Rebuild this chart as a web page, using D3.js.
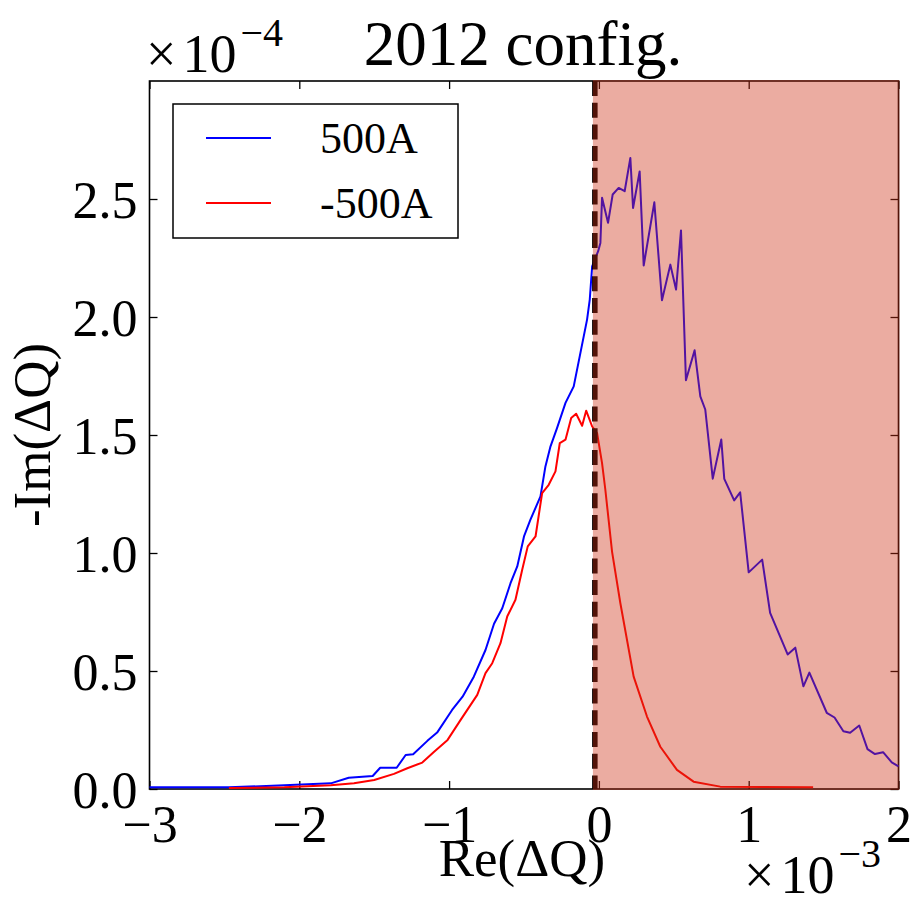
<!DOCTYPE html>
<html>
<head>
  <title>2012 config.</title>
  <script src="https://d3js.org/d3.v7.min.js"></script>
  <style>
    body { margin: 0; background: #fff; }
    text { font-family: "Liberation Serif", "DejaVu Serif", serif; fill: #000; }
    .axis path { display: none; }
    .axis line { stroke: #000; stroke-width: 1.3; }
  </style>
</head>
<body>
  <svg id="chart" width="910" height="899"></svg>

  <script>
    // series names and values (Re in 1e-3, -Im in 1e-4)
    const seriesNames = ["500A", "-500A"];
    const seriesColors = ["#0000ff", "#ff0000"];

    const blueRe = [-3.0, -2.47, -2.10, -1.79, -1.67, -1.51, -1.46, -1.35, -1.29, -1.24, -1.145, -1.08, -0.98, -0.91,
      -0.835, -0.757, -0.70, -0.645, -0.59, -0.545, -0.50, -0.457, -0.39, -0.357, -0.323, -0.279, -0.223, -0.168,
      -0.079, -0.061, -0.045, -0.005, 0.01, 0.021, 0.061, 0.092, 0.132, 0.172, 0.21, 0.228, 0.272, 0.299, 0.37,
      0.421, 0.477, 0.515, 0.548, 0.581, 0.639, 0.677, 0.71, 0.76, 0.817, 0.837, 0.903, 0.943, 1.0, 1.09, 1.143,
      1.26, 1.311, 1.365, 1.405, 1.521, 1.573, 1.632, 1.677, 1.738, 1.793, 1.843, 1.897, 1.955, 2.0];
    const blueIm = [0.007, 0.007, 0.016, 0.024, 0.048, 0.055, 0.090, 0.090, 0.144, 0.147, 0.204, 0.239, 0.335, 0.391,
      0.476, 0.589, 0.700, 0.766, 0.872, 0.943, 1.07, 1.141, 1.24, 1.367, 1.452, 1.530, 1.636, 1.706,
      1.989, 2.074, 2.215, 2.279, 2.314, 2.505, 2.399, 2.519, 2.547, 2.533, 2.674, 2.462, 2.617, 2.218, 2.486,
      2.071, 2.222, 2.116, 2.367, 1.732, 1.859, 1.664, 1.608, 1.315, 1.481, 1.314, 1.223, 1.257, 0.918, 0.972, 0.746,
      0.570, 0.599, 0.435, 0.493, 0.323, 0.303, 0.245, 0.238, 0.269, 0.169, 0.148, 0.156, 0.113, 0.096];

    const redRe = [-2.47, -2.10, -1.79, -1.635, -1.50, -1.368, -1.279, -1.179, -1.10, -1.01, -0.923, -0.812, -0.757,
      -0.712, -0.657, -0.612, -0.557, -0.512, -0.475, -0.423, -0.379, -0.335, -0.29, -0.261, -0.223, -0.185, -0.152,
      -0.112, -0.085, -0.045, -0.012, 0.021, 0.043, 0.088, 0.143, 0.232, 0.321, 0.41, 0.521, 0.632, 0.81, 1.43];
    const redIm = [0.004, 0.007, 0.016, 0.024, 0.038, 0.064, 0.088, 0.112, 0.158, 0.208, 0.293, 0.399, 0.491,
      0.533, 0.618, 0.731, 0.802, 0.929, 1.028, 1.070, 1.254, 1.289, 1.346, 1.466, 1.480, 1.572, 1.590,
      1.539, 1.603, 1.536, 1.508, 1.381, 1.268, 1.005, 0.788, 0.476, 0.307, 0.179, 0.081, 0.031, 0.010, 0.007];

    const xTicks = [-3, -2, -1, 0, 1, 2];
    const yTicks = [0, 0.5, 1.0, 1.5, 2.0, 2.5];

    // unstable region marker
    const vlineRe = -0.027;
    const spanStart = -0.04;
    const spanEnd = 2;

    const svg = d3.select("#chart");
    const plotLeft = 149.5, plotRight = 898.5, plotTop = 81, plotBottom = 789;

    const x = d3.scaleLinear().domain([-3, 2]).range([plotLeft, plotRight]);
    const y = d3.scaleLinear().domain([0, 3]).range([plotBottom, plotTop]);

    // axes with inward ticks
    svg.append("g").attr("class", "axis")
      .attr("transform", `translate(0,${plotBottom})`)
      .call(d3.axisBottom(x).tickValues(xTicks).tickSizeInner(-8).tickSizeOuter(0).tickPadding(14).tickFormat(d3.format("")))
      .selectAll("text").style("font-size", "52px").attr("dy", "0.75em");

    svg.append("g").attr("class", "axis")
      .attr("transform", `translate(0,${plotTop})`)
      .call(d3.axisTop(x).tickValues(xTicks).tickSizeInner(-8).tickSizeOuter(0).tickFormat(""));

    svg.append("g").attr("class", "axis")
      .attr("transform", `translate(${plotLeft},0)`)
      .call(d3.axisLeft(y).tickValues(yTicks).tickSizeInner(-8).tickSizeOuter(0).tickPadding(12).tickFormat(d3.format(".1f")))
      .selectAll("text").style("font-size", "52px").attr("dy", "0.35em");

    svg.append("g").attr("class", "axis")
      .attr("transform", `translate(${plotRight},0)`)
      .call(d3.axisRight(y).tickValues(yTicks).tickSizeInner(-8).tickSizeOuter(0).tickFormat(""));

    svg.append("rect")
      .attr("x", plotLeft).attr("y", plotTop)
      .attr("width", plotRight - plotLeft).attr("height", plotBottom - plotTop)
      .attr("fill", "none").attr("stroke", "#000").attr("stroke-width", 1.6);

    // lines
    const line = d3.line().x(d => x(d[0])).y(d => y(d[1]));
    const series = [
      d3.zip(blueRe, blueIm),
      d3.zip(redRe, redIm)
    ];
    series.forEach((s, i) => {
      svg.append("path")
        .datum(s)
        .attr("d", line)
        .attr("fill", "none")
        .attr("stroke", seriesColors[i])
        .attr("stroke-width", 2)
        .attr("stroke-linejoin", "round");
    });

    // dashed vertical line
    svg.append("line")
      .attr("x1", x(vlineRe)).attr("x2", x(vlineRe))
      .attr("y1", plotTop).attr("y2", plotBottom)
      .attr("stroke", "#000").attr("stroke-width", 5.5)
      .attr("stroke-dasharray", "15,6.7");

    // shaded span on top
    svg.append("rect")
      .attr("x", x(spanStart)).attr("y", plotTop - 1)
      .attr("width", x(spanEnd) - x(spanStart) + 1).attr("height", plotBottom - plotTop + 2)
      .attr("fill", "#cd2f14").attr("fill-opacity", 0.4);

    // legend
    const legend = svg.append("g");
    legend.append("rect")
      .attr("x", 173).attr("y", 104).attr("width", 285).attr("height", 134)
      .attr("fill", "#fff").attr("stroke", "#000").attr("stroke-width", 1.5);
    seriesNames.forEach((name, i) => {
      const ly = 138 + i * 65;
      legend.append("line")
        .attr("x1", 206).attr("x2", 271).attr("y1", ly).attr("y2", ly)
        .attr("stroke", seriesColors[i]).attr("stroke-width", 1.8);
      legend.append("text")
        .attr("x", 320).attr("y", ly + 15)
        .style("font-size", "44px")
        .text(name);
    });

    // title and labels
    svg.append("text")
      .attr("x", 523).attr("y", 65)
      .attr("text-anchor", "middle")
      .style("font-size", "63px")
      .text("2012 config.");

    svg.append("text")
      .attr("x", 522).attr("y", 876)
      .attr("text-anchor", "middle")
      .style("font-size", "53px")
      .text("Re(ΔQ)");

    svg.append("text")
      .attr("transform", `translate(50,${(plotTop + plotBottom) / 2}) rotate(-90)`)
      .attr("text-anchor", "middle")
      .style("font-size", "53px")
      .text("-Im(ΔQ)");

    // offset texts
    function offsetText(px, py, expo) {
      const t = svg.append("text").attr("x", px).attr("y", py).style("font-size", "54px");
      t.append("tspan").text("×");
      t.append("tspan").attr("dx", 6).text("10");
      t.append("tspan").attr("dx", 4).attr("dy", -26).style("font-size", "40px").text(expo);
    }
    offsetText(146, 72, "−4");
    offsetText(744, 893, "−3");
  </script>
</body>
</html>
